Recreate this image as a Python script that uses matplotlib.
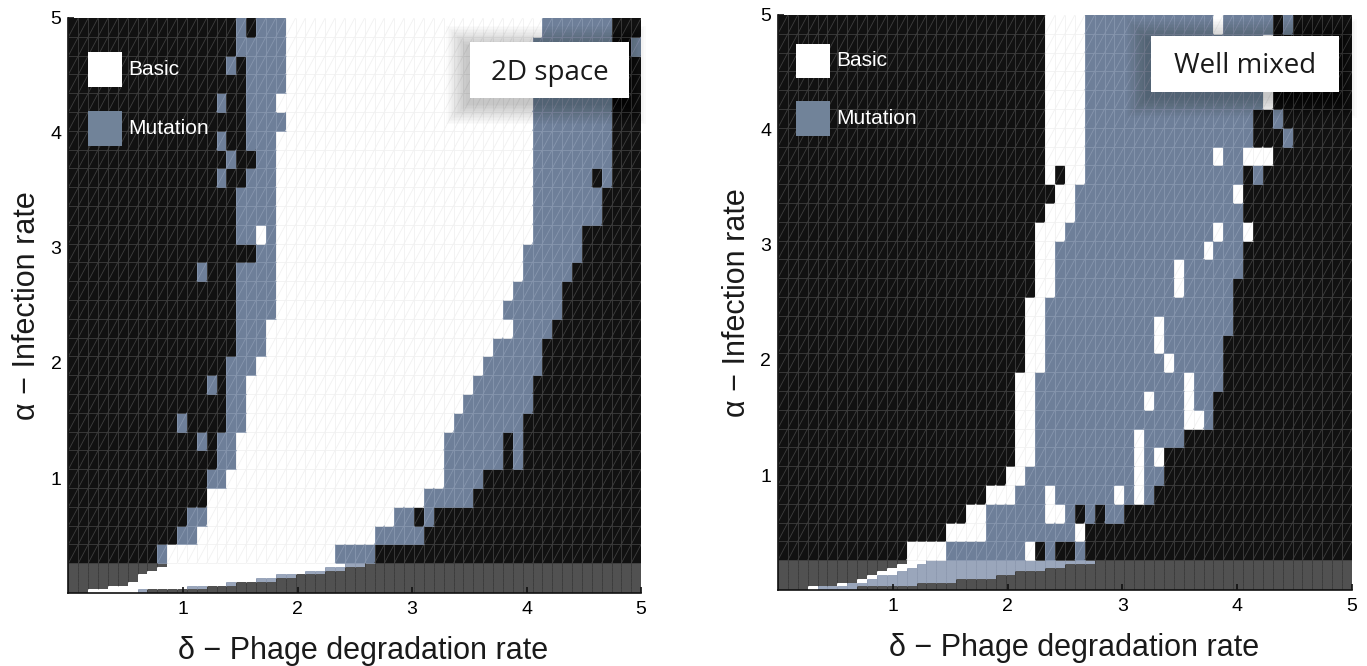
import numpy as np
import matplotlib
matplotlib.use("Agg")
import matplotlib.pyplot as plt
from matplotlib.collections import LineCollection
from matplotlib.colors import ListedColormap
from matplotlib.patches import Rectangle

# phase codes per cell: K = no survivors (black), W = basic, B = mutation
# rows are run-length coded "<code><end column>", listed from alpha = 5 downwards
N_COLS = 58
BAND_TOP = 0.26

left_rows = [
    "K17 B18 K19 B22 W48 B55 K58",
    "K17 B22 W47 B55 K57 B58",
    "K16 B17 K18 B22 W47 B55 K58",
    "K18 B22 W47 B55 K58",
    "K15 B16 K18 B21 W47 B55 K58",
    "K18 B22 W47 B55 K58",
    "K15 B16 K18 B21 W47 B55 K58",
    "K16 B17 K19 B21 W47 B55 K58",
    "K15 B16 K18 B21 W47 B53 K54 B55 K58",
    "K17 B21 W47 B54 K58",
    "K17 B21 W47 B54 K58",
    "K17 B19 W20 B21 W47 B52 K58",
    "K19 B21 W46 B52 K58",
    "K13 B14 K17 B21 W46 B51 K58",
    "K17 B21 W45 B50 K58",
    "K17 B21 W44 B50 K58",
    "K17 B20 W45 B49 K58",
    "K17 B20 W43 B48 K58",
    "K16 B19 W42 B48 K58",
    "K14 B15 K16 B18 W41 B47 K58",
    "K16 B18 W40 B47 K58",
    "K11 B12 K16 B18 W39 B46 K58",
    "K13 B14 K15 B17 W38 B44 K45 B46 K58",
    "K15 B17 W38 B44 K45 B46 K58",
    "K14 B16 W38 B42 K58",
    "K14 W36 B41 K58",
    "K12 B14 W33 B35 K36 B37 K58",
    "K11 B13 W31 B36 K58",
    "K9 B10 W27 B31 K58",
]

# finer strip of low infection rates, alpha 0 .. BAND_TOP, top row first
left_band = [
    "K10 W28 B30 K58",
    "K9 W26 B28 K58",
    "K8 W24 B26 K58",
    "K7 W21 B23 K58",
    "K7 W19 B21 K58",
    "K6 W16 B17 K58",
    "K4 W12 B14 K58",
    "K2 W7 B8 K58",
]

right_rows = [
    "K27 W31 B44 W45 B50 K51 B52 K58",
    "K27 W31 B49 W50 K58",
    "K27 W31 B50 K58",
    "K27 W31 B50 K58",
    "K27 W31 B49 W50 K58",
    "K27 W31 B48 K50 B51 K58",
    "K27 W31 B48 K51 B52 K58",
    "K27 W31 B44 W45 B47 W50 K58",
    "K27 W28 K29 W31 B47 K48 B49 K58",
    "K28 W30 B46 W47 K58",
    "K27 W30 B47 K58",
    "K26 W29 B44 W45 B47 W48 K58",
    "K26 W28 B43 W44 B47 K58",
    "K26 W28 B40 W41 B47 K58",
    "K26 W28 B40 W41 B46 K58",
    "K25 W27 B46 K58",
    "K25 W27 B38 W39 B46 K58",
    "K25 W27 B38 W39 B45 K58",
    "K25 W27 B39 W40 B45 K58",
    "K24 W26 B41 W42 B45 K58",
    "K24 W26 B37 W38 B41 W42 B44 K58",
    "K24 W26 B41 W43 B44 K58",
    "K24 W26 B36 W37 B41 K58",
    "K24 W26 B36 W37 B38 W39 K58",
    "K23 W25 B36 W37 B39 K58",
    "K21 W24 B27 W28 B34 W35 B36 W37 B38 K58",
    "K19 W21 B27 W29 B30 K31 B32 K33 B35 K58",
    "K17 W21 B30 W31 K58",
    "K13 W17 B25 W26 K27 B28 K30 B31 K58",
]

right_band = [
    "K13 W15 B32 K58",
    "K12 W14 B29 K58",
    "K11 W13 B27 K58",
    "K10 W12 B24 K58",
    "K9 W10 B22 K58",
    "K8 W9 B18 K58",
    "K6 W7 B14 K58",
    "K3 W4 B8 K58",
]

CODES = "KWB"
fills = {"K": "#111111", "W": "#ffffff", "B": "#6e7f99"}
edges = {"K": "#3e3e3e", "W": "#f1f1f1", "B": "#8796ae"}
band_fills = {"K": "#515151", "W": "#ffffff", "B": "#9aa6bb"}
band_edges = {"K": "#3a3a3a", "W": "#ffffff", "B": "#8c98ae"}

plt.rcParams["font.family"] = ["Liberation Sans", "DejaVu Sans"]


def runs_to_grid(rows):
    grid = []
    for row in rows:
        cells, start = [], 0
        for tok in row.split():
            stop = int(tok[1:])
            cells.extend(tok[0] * (stop - start))
            start = stop
        assert len(cells) == N_COLS, row
        grid.append(cells)
    # pcolormesh wants the lowest row first
    return np.flipud(np.array(grid))


def draw_cells(ax, grid, ye, fill, edge, diagonals=True, horizontals=True):
    xe = np.linspace(0, 5, N_COLS + 1)
    idx = np.vectorize(CODES.index)(grid)
    cmap = ListedColormap([fill[c] for c in CODES])
    ax.pcolormesh(xe, ye, idx, cmap=cmap, vmin=-0.5, vmax=len(CODES) - 0.5,
                  shading="flat", edgecolors="none", antialiased=False, zorder=1)
    segs = {c: [] for c in CODES}
    for r in range(grid.shape[0]):
        for c in range(grid.shape[1]):
            k = grid[r, c]
            x0, x1, y0, y1 = xe[c], xe[c + 1], ye[r], ye[r + 1]
            segs[k].append([(x0, y0), (x0, y1)])
            if horizontals:
                segs[k].append([(x0, y0), (x1, y0)])
            if diagonals:
                segs[k].append([(x0, y0), (x1, y1)])
    for k in CODES:
        if segs[k]:
            ax.add_collection(LineCollection(segs[k], colors=edge[k],
                                             linewidths=0.6, zorder=2))


def draw_tag(ax, x0, y0, x1, y1, text):
    # soft drop shadow made of stacked translucent boxes
    for i in range(14, 0, -1):
        p = i * 0.013
        ax.add_patch(Rectangle((x0 - p - 0.03, y0 - p - 0.04), x1 - x0 + 2 * p,
                               y1 - y0 + 2 * p, facecolor="black", alpha=0.014,
                               edgecolor="none", zorder=4, clip_on=False))
    ax.add_patch(Rectangle((x0, y0), x1 - x0, y1 - y0, facecolor="white",
                           edgecolor="none", zorder=5))
    ax.text((x0 + x1) / 2, (y0 + y1) / 2 - 0.02, text, ha="center", va="center",
            fontsize=20, family=["Open Sans", "DejaVu Sans"], color="#1a1a1a",
            zorder=6)


def draw_key(ax, x, y_basic, y_mut):
    size = 0.3
    for y, code, label in [(y_basic, "W", "Basic"), (y_mut, "B", "Mutation")]:
        ax.add_patch(Rectangle((x, y - size / 2), size * 0.99, size,
                               facecolor=fills[code] if code == "W" else "#718399",
                               edgecolor="none", zorder=3))
        ax.text(x + size + 0.05, y, label, ha="left", va="center", fontsize=15,
                color="white", zorder=3)


fig = plt.figure(figsize=(13.67, 6.66), dpi=100)
ax_l = fig.add_axes([0.0501, 0.1096, 0.4189, 0.8634])
ax_r = fig.add_axes([0.5691, 0.1141, 0.4199, 0.8634])

main_y = np.linspace(BAND_TOP, 5, len(left_rows) + 1)
band_y = np.linspace(0, BAND_TOP, len(left_band) + 1)

panels = [
    (ax_l, left_rows, left_band, "2D space", (3.51, 4.30, 4.89, 4.79), (0.17, 4.55, 4.04)),
    (ax_r, right_rows, right_band, "Well mixed", (3.25, 4.33, 4.89, 4.82), (0.16, 4.60, 4.10)),
]

for ax, rows, band, tag, box, key in panels:
    draw_cells(ax, runs_to_grid(rows), main_y, fills, edges)
    draw_cells(ax, runs_to_grid(band), band_y, band_fills, band_edges,
               diagonals=False, horizontals=False)
    draw_key(ax, *key)
    draw_tag(ax, *box, tag)

    ax.set_xlim(0, 5)
    ax.set_ylim(0, 5)
    ax.set_xticks([1, 2, 3, 4, 5])
    ax.set_yticks([1, 2, 3, 4, 5])
    ax.tick_params(direction="in", length=4, width=1.2, labelsize=14,
                   color="#111111", pad=6)
    ax.tick_params(axis="y", pad=5)
    for side in ["top", "right"]:
        ax.spines[side].set_visible(False)
    for side in ["left", "bottom"]:
        ax.spines[side].set_linewidth(1.2)
        ax.spines[side].set_color("#111111")
    ax.set_xlabel("δ − Phage degradation rate", fontsize=22, color="#1a1a1a")
    ax.xaxis.set_label_coords(0.515, -0.075)
    ax.set_ylabel("α − Infection rate", fontsize=22, color="#1a1a1a",
                  labelpad=6)

fig.savefig("out.png", dpi=100, facecolor="white")
